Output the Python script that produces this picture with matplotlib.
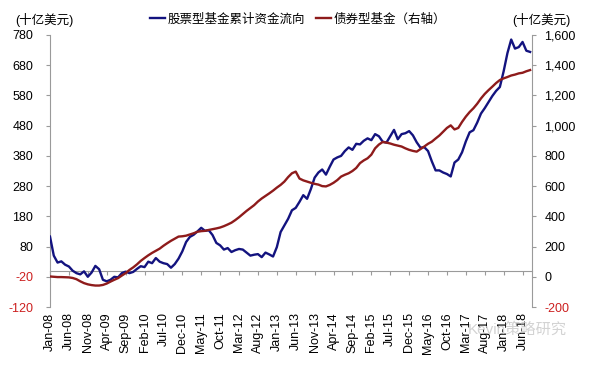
import matplotlib
matplotlib.use("Agg")
import matplotlib.pyplot as plt
import numpy as np

plt.rcParams['font.family'] = ['Liberation Sans', 'Noto Sans CJK SC', 'DejaVu Sans']

# Monthly points, Jan-2008 .. Aug-2018 (index 0 = Jan-2008)
equity_flow = [113, 50, 27, 31, 20, 14, 0, -8, -12, -2, -20, -6, 16, 5, -30, -35,
               -30, -20, -22, -8, -3, -8, -4, 6, 15, 12, 30, 25, 42, 30, 25, 22,
               10, 22, 40, 64, 95, 112, 119, 130, 142, 132, 134, 118, 92, 84, 70, 75,
               62, 68, 72, 70, 60, 50, 53, 55, 45, 60, 54, 47, 78, 128, 150, 172,
               200, 208, 228, 250, 238, 270, 308, 325, 335, 318, 344, 368, 375, 380, 396, 408,
               400, 420, 418, 430, 438, 432, 452, 445, 427, 424, 445, 466, 435, 452, 455, 462,
               448, 425, 407, 409, 396, 362, 332, 332, 325, 320, 312, 358, 368, 392, 428, 458,
               465, 490, 520, 538, 558, 578, 595, 608, 660, 720, 765, 735, 740, 757, 728, 724]

bond_flow = [2, 0, -2, -2, -3, -4, -8, -16, -30, -42, -50, -55, -58, -58, -54, -45,
             -32, -20, -9, 8, 24, 45, 62, 82, 105, 124, 142, 158, 172, 186, 205, 222,
             238, 252, 266, 268, 272, 280, 288, 298, 302, 304, 310, 315, 320, 326, 335, 346,
             358, 375, 394, 415, 436, 455, 474, 498, 518, 535, 552, 570, 590, 608, 630, 660,
             685, 696, 650, 638, 630, 622, 615, 610, 600, 598, 608, 622, 640, 663, 675, 685,
             700, 720, 752, 770, 784, 808, 850, 875, 892, 888, 882, 874, 868, 862, 850, 840,
             833, 828, 845, 862, 880, 894, 915, 935, 960, 985, 1002, 975, 985, 1025, 1060, 1090,
             1115, 1145, 1180, 1210, 1235, 1258, 1282, 1302, 1313, 1322, 1332, 1338, 1346, 1350, 1360, 1368]

tick_labels = ['Jan-08', 'Jun-08', 'Nov-08', 'Apr-09', 'Sep-09', 'Feb-10', 'Jul-10', 'Dec-10',
               'May-11', 'Oct-11', 'Mar-12', 'Aug-12', 'Jan-13', 'Jun-13', 'Nov-13', 'Apr-14',
               'Sep-14', 'Feb-15', 'Jul-15', 'Dec-15', 'May-16', 'Oct-16', 'Mar-17', 'Aug-17',
               'Jan-18', 'Jun-18']
left_ticks = list(range(-120, 781, 100))
right_ticks = list(range(-200, 1601, 200))

legend_labels = ['股票型基金累计资金流向', '债券型基金（右轴）']
unit_label = '(十亿美元)'

months = np.arange(len(equity_flow))
tick_pos = np.arange(len(tick_labels)) * 5

BLUE = '#13137f'
RED = '#8e1b1b'
GRAY = '#9a9a9a'
NEG = '#cc1f1f'

fig = plt.figure(figsize=(6, 3.72), dpi=100)
ax = fig.add_axes([50 / 600, 65 / 372, 482 / 600, 272 / 372])
ax2 = ax.twinx()
l2, = ax2.plot(months, bond_flow, color=RED, lw=1.7, zorder=2)
l1, = ax.plot(months, equity_flow, color=BLUE, lw=1.7, zorder=3)

for s in ['top', 'right']:
    ax.spines[s].set_visible(False)
for s in ['top', 'bottom', 'left']:
    ax2.spines[s].set_visible(False)
ax.spines['left'].set_color(GRAY)
ax2.spines['right'].set_color(GRAY)
ax.spines['bottom'].set_color(GRAY)
ax.spines['bottom'].set_position(('data', 0))

ax.set_xlim(0, 127.5)
ax.set_ylim(-120, 780)
ax2.set_ylim(-200, 1600)

ax.set_yticks(left_ticks, labels=[str(v) for v in left_ticks])
ax2.set_yticks(right_ticks, labels=[f'{v:,}' for v in right_ticks])
for lbl, v in zip(ax.get_yticklabels(), left_ticks):
    if v < 0:
        lbl.set_color(NEG)
for lbl, v in zip(ax2.get_yticklabels(), right_ticks):
    if v < 0:
        lbl.set_color(NEG)

ax.set_xticks(tick_pos)
ax.set_xticklabels(tick_labels, rotation=90, va='top', ha='center')

ax.tick_params(axis='y', direction='out', length=3, color=GRAY, labelsize=9, pad=9)
ax2.tick_params(axis='y', direction='out', length=3, color=GRAY, labelsize=9, pad=6)
ax.tick_params(axis='x', direction='out', length=3, color=GRAY, labelsize=9, pad=27)

fig.text(0.025, 0.946, unit_label, fontsize=9, ha='left', va='center')
fig.text(0.853, 0.946, unit_label, fontsize=9, ha='left', va='center')

fig.legend([l1, l2], legend_labels, loc='center', bbox_to_anchor=(0.497, 0.948),
           ncol=2, frameon=False, fontsize=9, handlelength=1.2, handletextpad=0.2,
           columnspacing=0.9, borderpad=0)

fig.text(0.78, 0.115, 'Kevin策略研究', fontsize=11, color='#c8c8c8', alpha=0.8,
         ha='left', va='center')

fig.savefig('out.png', dpi=100)
